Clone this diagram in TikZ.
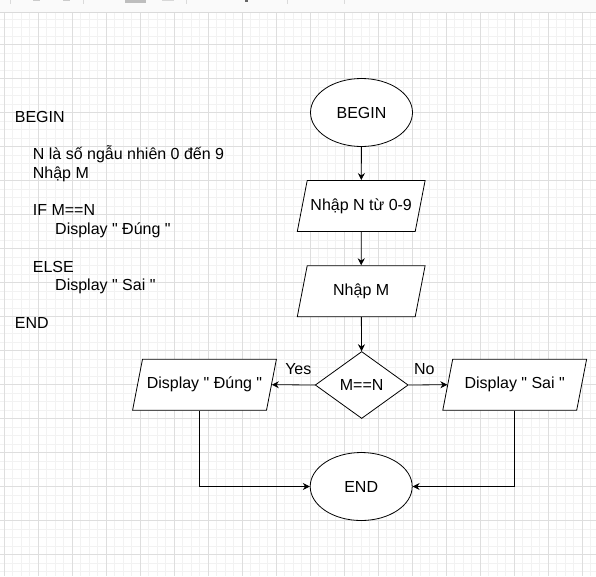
\documentclass[tikz,border=0pt]{standalone}
\usepackage{fontspec}
\setmainfont{Liberation Sans}[Ligatures=TeXOff]
\usepackage{tikz}
\usetikzlibrary{arrows.meta,shapes.geometric}
\definecolor{gridmajor}{RGB}{222,222,222}
\definecolor{gridminor}{RGB}{242,242,242}
\definecolor{barfill}{RGB}{250,250,250}
\definecolor{barline}{RGB}{218,218,218}
\definecolor{baricon}{RGB}{190,190,190}

\begin{document}
\begin{tikzpicture}[x=1pt, y=-1pt,
  font=\fontsize{16}{18.7}\selectfont,
  box/.style={draw=black, line width=0.8pt, fill=white, inner sep=0pt},
  term/.style={box, ellipse, minimum width=102pt, minimum height=68pt},
  io/.style={box, trapezium, trapezium left angle=79, trapezium right angle=101,
             text height=12pt, text depth=4pt, inner ysep=17.5pt, inner xsep=3pt},
  cond/.style={box, diamond, shape aspect=1.39, minimum width=93pt, minimum height=67pt},
  flow/.style={draw=black, line width=0.8pt, -{Stealth[length=7pt, width=7pt]}},
  lbl/.style={inner sep=0pt},
  code/.style={inner sep=0pt, anchor=base west},
]
\useasboundingbox (0,0) rectangle (596,576);
\fill[white] (0,0) rectangle (596,576);
% ---- cuadricula de fondo
\foreach \k in {0,...,70} {
  \draw[gridminor, line width=0.6pt] (4+8.5*\k, 12.3) -- (4+8.5*\k, 576);
  \draw[gridminor, line width=0.6pt] (0, 10.3+8.5*\k) -- (596, 10.3+8.5*\k);
}
\foreach \k in {0,...,17} {
  \draw[gridmajor, line width=0.7pt] (4+34*\k, 12.3) -- (4+34*\k, 576);
  \draw[gridmajor, line width=0.7pt] (0, 10.3+34*\k) -- (596, 10.3+34*\k);
}
% ---- barra superior (recortada)
\fill[barfill] (0,0) rectangle (596,12.3);
\draw[barline, line width=0.8pt] (0,12.3) -- (596,12.3);
\foreach \xs in {10.7, 83.3, 186.7, 287.7, 344.3}
  \draw[barline, line width=0.6pt] (\xs,0) -- (\xs,3.7);
\fill[baricon!80] (33,0) rectangle (40,1);
\fill[baricon!80] (63,0) rectangle (70,1);
\fill[baricon] (125,0) rectangle (146,2.7);
\fill[baricon!60] (162,0) rectangle (174,1);
\draw[black!60, line width=0.6pt] (245.3,0) rectangle (247,1.7);

% ---- pseudocodigo
\foreach \nm/\xx/\ln/\txt in {
    cBegin/14.7/0/BEGIN,
    cRand/32.7/2/N là số ngẫu nhiên 0 đến 9,
    cInput/32.7/3/Nhập M,
    cIf/32.7/5/IF M==N,
    cTrue/55/6/Display " Đúng ",
    cElse/32.7/8/ELSE,
    cFalse/55/9/Display " Sai ",
    cEnd/14.7/11/END} {
  \node[code] (\nm) at (\xx, {122.4+18.7*\ln}) {\txt};
}

% ---- diagrama de flujo
\node[term] (begin) at (361.5,112.5) {BEGIN};
\node[io] (readN) at (361.2,206) {\makebox[102pt]{Nhập N từ 0-9}};
\node[io] (readM) at (361.2,291.2) {\makebox[102pt]{Nhập M}};
\node[cond] (check) at (361.7,385) {M==N};
\node[io] (showT) at (204.5,384.7) {\makebox[118pt]{Display " Đúng "}};
\node[io] (showF) at (514.7,384.7) {\makebox[118pt]{Display " Sai "}};
\node[term] (end) at (361.2,486.5) {END};

\draw[flow] (begin) -- (readN);
\draw[flow] (readN) -- (readM);
\draw[flow] (readM) -- (check);
\draw[flow] (check.west) -- (showT.east);
\draw[flow] (check.east) -- (showF.west);
\draw[flow] (showT.bottom side) |- (end.west);
\draw[flow] (showF.south) |- (end.east);
\node[lbl] (yes) at (298.3,369.3) {Yes};
\node[lbl] (no) at (424.3,369.3) {No};
\end{tikzpicture}
\end{document}
